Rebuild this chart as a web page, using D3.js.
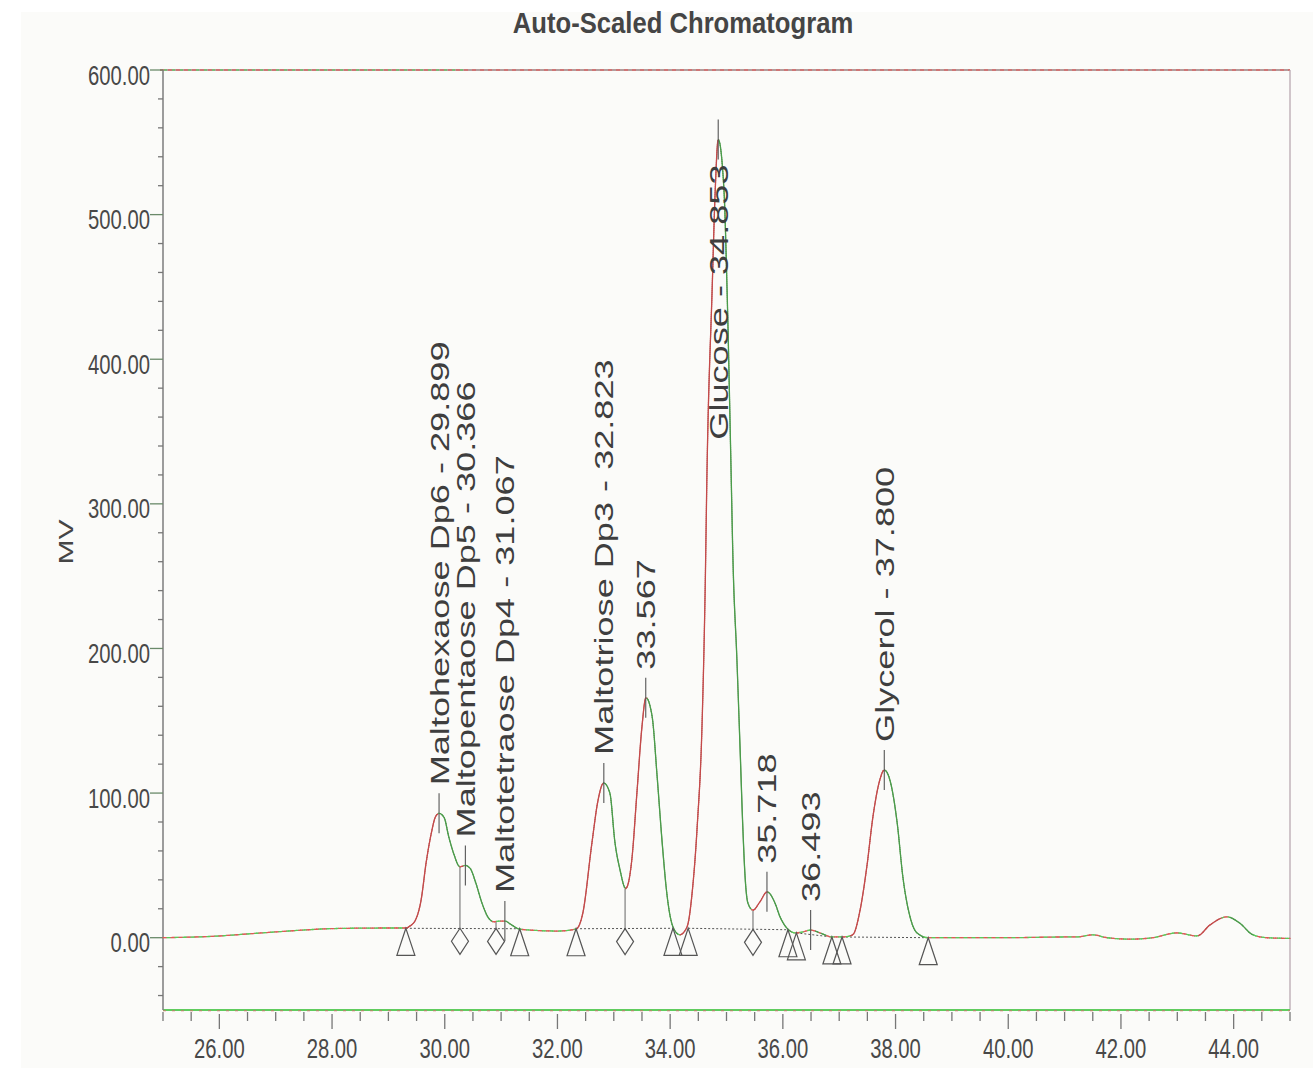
<!DOCTYPE html>
<html><head><meta charset="utf-8">
<script src="https://cdn.jsdelivr.net/npm/d3@7"></script>
<style>html,body{margin:0;padding:0;background:#fff;}svg{display:block;}</style>
</head><body>
<svg id="chart" width="1313" height="1068"></svg>
<script>
// ---------- data ----------
const traceTime = [25.0,26.0,26.5,27.0,27.5,28.0,29.0,29.31,29.38,29.49,29.58,29.67,29.76,29.84,29.90,29.99,30.07,30.16,30.27,30.36,30.45,30.55,30.66,30.77,30.87,30.98,31.07,31.18,31.32,31.5,32.0,32.33,32.45,32.61,32.72,32.82,32.93,33.02,33.11,33.21,33.32,33.41,33.50,33.57,33.68,33.77,33.86,33.94,34.05,34.17,34.30,34.39,34.48,34.565,34.62,34.655,34.745,34.80,34.853,34.955,35.01,35.08,35.115,35.185,35.24,35.29,35.33,35.38,35.47,35.59,35.72,35.86,35.95,36.07,36.22,36.36,36.49,36.66,36.87,37.07,37.24,37.37,37.49,37.60,37.72,37.80,37.90,38.03,38.13,38.26,38.38,38.58,39.0,40.0,41.0,41.22,41.50,41.75,42.16,42.57,42.99,43.35,43.58,43.88,44.11,44.34,44.59,45.0];
const traceMV = [0,1.2,2.6,4,5.3,6.3,6.7,6.7,8,13,26,52,72,84,86,83,70,58,49,50,48,38,24,14,11,11.5,11.5,9,6,5.3,4.6,6,17,65,95,107,100,66,47,34,54,100,146,166,153,111,65,31,7.5,2,7.5,31,77,146,238,325,448,517,552,517,448,325,261,192,132,76,42,24,19,24.6,31.7,24,14.4,6.7,3.3,4,5.3,3.3,0.5,0.5,2,19,49,84,109,116,109,79,42,14,3.3,0,0,0,0.5,0.5,2,0,-1,0,3.3,1.2,8.8,14.4,10,2,0,-0.5];

const peakNames = ["Maltohexaose Dp6 - 29.899","Maltopentaose Dp5 - 30.366","Maltotetraose Dp4 - 31.067","Maltotriose Dp3 - 32.823","33.567","Glucose - 34.853","35.718","36.493","Glycerol - 37.800"];
const peakTimes = [29.899,30.366,31.067,32.823,33.567,34.853,35.718,36.493,37.800];
const peakApex  = [86,50,11.5,107,166,552,31.7,5.3,116];

const triangleTimes = [29.31,31.33,32.33,34.05,34.32,36.09,36.24,36.87,37.05,38.58];
const triangleMV    = [6.5,6.2,6.2,6.5,6.5,5.5,3.3,0.5,0.5,0];
const diamondTimes  = [30.27,30.91,33.20,35.47];
const diamondMV     = [6.5,6.4,6.3,5.8];
const dropTopMV     = [49,11,34,19];

const baseStartT = [29.31,32.33,34.32,36.24,37.05];
const baseStartV = [6.5,6.2,6.5,3.3,0.5];
const baseEndT   = [31.33,34.05,36.09,36.87,38.58];
const baseEndV   = [6.2,6.5,5.5,0.5,0];

const xMajorTicks = [26,28,30,32,34,36,38,40,42,44];
const yMajorTicks = [0,100,200,300,400,500,600];
const titleText = "Auto-Scaled Chromatogram";
const yTitle = "MV";

// ---------- layout ----------
const svg = d3.select("#chart");
const x = d3.scaleLinear().domain([25,45]).range([163,1290]);
const y = d3.scaleLinear().domain([-50,600]).range([1010,70]);
const FONT = "'Liberation Sans', Arial, Helvetica, sans-serif";

svg.append("rect").attr("x",21).attr("y",12).attr("width",1292).attr("height",1056).attr("fill","#fbfbf9");

// title
svg.append("text").attr("transform","translate(683,33) scale(0.855,1)")
  .attr("text-anchor","middle").attr("font-family",FONT).attr("font-weight","bold")
  .attr("font-size",30).attr("fill","#454545").text(titleText);

// y title
svg.append("text").attr("transform","translate(73,542) rotate(-90) scale(1.43,1)")
  .attr("text-anchor","middle").attr("font-family",FONT).attr("font-size",21)
  .attr("fill","#454545").text(yTitle);

// frame
const frame = svg.append("g");
frame.append("line").attr("x1",x(25)-3).attr("x2",x(45)).attr("y1",y(600)).attr("y2",y(600))
  .attr("stroke","#9a7c7c").attr("stroke-width",1.3);
frame.append("line").attr("x1",x(25)-3).attr("x2",x(45)).attr("y1",y(600)).attr("y2",y(600))
  .attr("stroke","#d86a6a").attr("stroke-width",1.3).attr("stroke-dasharray","4,4");
frame.append("line").attr("x1",x(25)-3).attr("x2",x(25)+300).attr("y1",y(600)).attr("y2",y(600))
  .attr("stroke","#6cc46c").attr("stroke-width",1.3).attr("stroke-dasharray","3,5").attr("stroke-dashoffset",4);
frame.append("line").attr("x1",x(45)).attr("x2",x(45)).attr("y1",y(600)).attr("y2",y(-50))
  .attr("stroke","#b4a2aa").attr("stroke-width",1.2);
frame.append("line").attr("x1",x(25)).attr("x2",x(45)).attr("y1",y(-50)).attr("y2",y(-50))
  .attr("stroke","#5fcc5f").attr("stroke-width",1.8);
frame.append("line").attr("x1",x(25)).attr("x2",x(45)).attr("y1",y(-50)+0.8).attr("y2",y(-50)+0.8)
  .attr("stroke","#d86a6a").attr("stroke-width",0.8).attr("stroke-dasharray","3,6");
frame.append("line").attr("x1",x(25)).attr("x2",x(25)).attr("y1",y(600)).attr("y2",y(-50))
  .attr("stroke","#7c7c7c").attr("stroke-width",1.5);

// y ticks
const yMinor = d3.range(-40,601,20);
const yt = svg.append("g");
yt.selectAll("line").data(yMinor).join("line")
  .attr("x1",d => x(25) - (d % 100 === 0 ? 13 : 5)).attr("x2",x(25))
  .attr("y1",d => y(d)).attr("y2",d => y(d))
  .attr("stroke",d => d % 100 === 0 ? "#6a8a6a" : "#777").attr("stroke-width",1.3);
yt.selectAll("text").data(yMajorTicks).join("text")
  .attr("transform",d => `translate(150,${y(d)+14.5}) scale(0.75,1)`)
  .attr("text-anchor","end").attr("font-family",FONT).attr("font-size",27)
  .attr("fill","#484848").text(d => d3.format(".2f")(d));

// x ticks
const xMinor = d3.range(25,45.001,0.5);
const xt = svg.append("g");
xt.selectAll("line").data(xMinor).join("line")
  .attr("x1",d => x(d)).attr("x2",d => x(d))
  .attr("y1",d => y(-50) + (Math.abs(d % 2) < 1e-6 ? 4 : 2))
  .attr("y2",d => y(-50) + (Math.abs(d % 2) < 1e-6 ? 19 : 11))
  .attr("stroke","#777").attr("stroke-width",1.3);
xt.selectAll("text").data(xMajorTicks).join("text")
  .attr("transform",d => `translate(${x(d)},1058) scale(0.75,1)`)
  .attr("text-anchor","middle").attr("font-family",FONT).attr("font-size",27)
  .attr("fill","#484848").text(d => d3.format(".2f")(d));

// baselines (dashed)
const bl = svg.append("g");
baseStartT.forEach((t,i) => {
  bl.append("line").attr("x1",x(t)).attr("y1",y(baseStartV[i]))
    .attr("x2",x(baseEndT[i])).attr("y2",y(baseEndV[i]))
    .attr("stroke","#555").attr("stroke-width",1).attr("stroke-dasharray","2,2");
});

// drop lines
diamondTimes.forEach((t,i) => {
  bl.append("line").attr("x1",x(t)).attr("x2",x(t))
    .attr("y1",y(diamondMV[i])).attr("y2",y(dropTopMV[i]))
    .attr("stroke","#666").attr("stroke-width",1);
});

// trace
const pts = traceTime.map((t,i) => [t, traceMV[i]]);
const line = d3.line().x(d => x(d[0])).y(d => y(d[1])).curve(d3.curveMonotoneX);
const tracePath = svg.append("path").attr("d",line(pts)).attr("fill","none")
  .attr("stroke","#9a8080").attr("stroke-width",0.9).attr("stroke-opacity",0.6);
const node = tracePath.node();
const total = node.getTotalLength();
const segG = svg.append("g").attr("fill","none").attr("stroke-width",1.3).attr("stroke-linecap","round");
const step = 2;
let prev = node.getPointAtLength(0), k = 0;
for (let l = step; l <= total + step; l += step) {
  const p = node.getPointAtLength(Math.min(l,total));
  const dx = p.x - prev.x, dy = p.y - prev.y;
  const len = Math.hypot(dx,dy) || 1;
  let c;
  if (dy < -0.35*len) c = "#c44a4a";
  else if (dy > 0.35*len) c = "#4a9c4a";
  else c = (Math.floor(k/2) % 2 === 0) ? "#e25858" : "#58cc58";
  segG.append("line").attr("x1",prev.x).attr("y1",prev.y).attr("x2",p.x).attr("y2",p.y).attr("stroke",c);
  prev = p; k++;
}

// markers
const mk = svg.append("g").attr("fill","none").attr("stroke","#555").attr("stroke-width",1.2);
triangleTimes.forEach((t,i) => {
  const cx = x(t), cy = y(triangleMV[i]);
  mk.append("path").attr("d",`M${cx},${cy} L${cx-9},${cy+27} L${cx+9},${cy+27} Z`);
});
diamondTimes.forEach((t,i) => {
  const cx = x(t), cy = y(diamondMV[i]);
  mk.append("path").attr("d",`M${cx},${cy} L${cx+8.5},${cy+13} L${cx},${cy+26} L${cx-8.5},${cy+13} Z`);
});

// peak tick lines and labels
const lab = svg.append("g");
peakTimes.forEach((t,i) => {
  const px = x(t), py = y(peakApex[i]);
  lab.append("line").attr("x1",px).attr("x2",px).attr("y1",py-20).attr("y2",py+20)
    .attr("stroke","#555").attr("stroke-width",1.1);
  const txt = lab.append("text").attr("font-family",FONT).attr("font-size",26)
    .attr("fill","#3e3e3e").text(peakNames[i]);
  const L = txt.node().getComputedTextLength() * 1.39;
  let start = py - 28;
  if (start - L < y(600)) start = py + 25 + L;
  txt.attr("transform",`translate(${px+9.5},${start}) rotate(-90) scale(1.39,1)`);
});
</script>
</body></html>
